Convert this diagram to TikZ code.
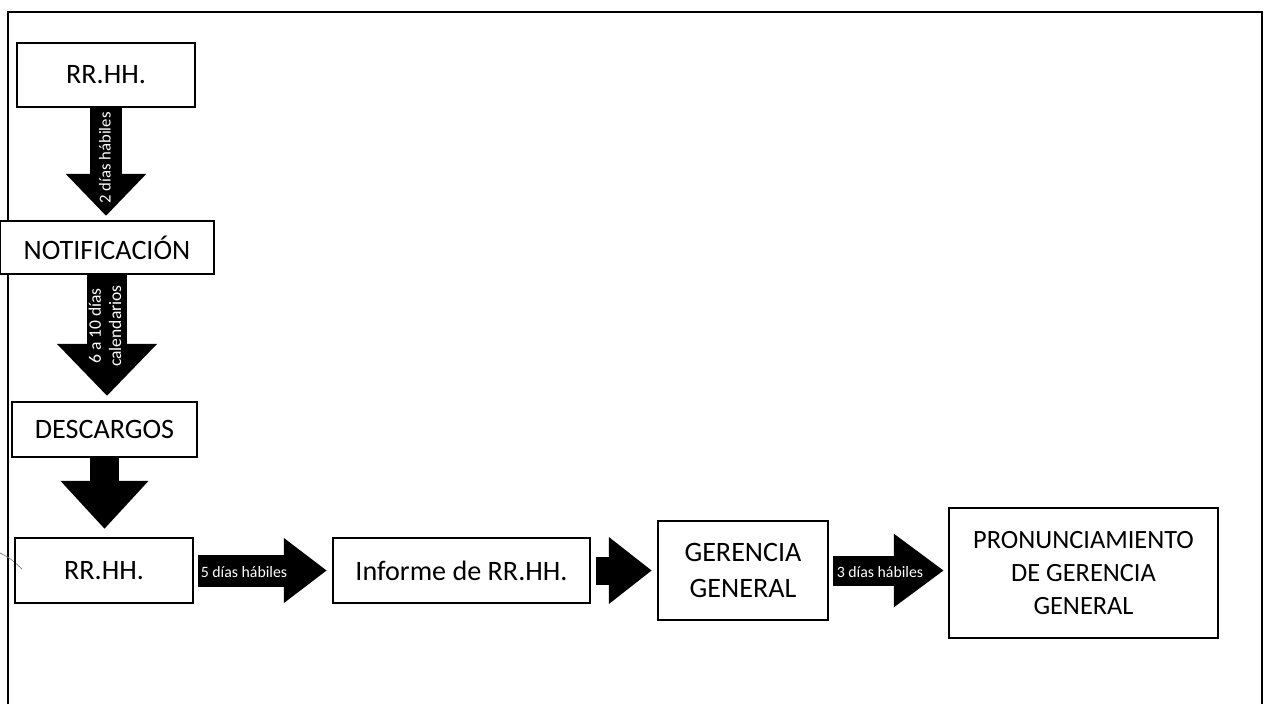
\documentclass[tikz,border=0pt]{standalone}
\usepackage{fontspec}
\setmainfont{Carlito}
\usetikzlibrary{arrows.meta}

\tikzset{
  caja/.style={draw, line width=1.3pt, align=center, font=\fontsize{16}{21}\selectfont},
  blk/.style n args={3}{line width=#1, -{Triangle[width=#2,length=#3]}},
  plazo/.style={text=white, align=center, font=\fontsize{9}{11}\selectfont, inner sep=0pt}
}

\begin{document}
\begin{tikzpicture}[line cap=butt,line join=miter,x=0.02cm,y=-0.02cm]
\useasboundingbox (0,0) rectangle (1265,704);
% marco
\draw[line width=1.2pt] (8,704) -- (8,12) -- (1262,12) -- (1262,704);
\draw[gray, line width=0.4pt] (0,553) .. controls (10,558) .. (22,569);
% cajas
\node[caja, minimum width=3.56cm, minimum height=1.28cm] (rrhhA) at (106,75) {RR.HH.};
\node[caja, fill=white, minimum width=4.28cm, minimum height=1.06cm] (notif) at (107,247.5) {NOTIFICACIÓN};
\node[caja, minimum width=3.70cm, minimum height=1.10cm] (desc) at (104.5,429.5) {DESCARGOS};
\node[caja, minimum width=3.56cm, minimum height=1.30cm] (rrhhB) at (104,570.5) {RR.HH.};
\node[caja, minimum width=5.14cm, minimum height=1.30cm] (inf) at (461.5,570.5) {Informe de RR.HH.};
\node[caja, minimum width=3.40cm, minimum height=1.98cm] (ger) at (743,570.5) {GERENCIA\\GENERAL};
\node[caja, minimum width=5.38cm, minimum height=2.60cm, font=\fontsize{15}{19}\selectfont] (pron) at (1083.5,573) {PRONUNCIAMIENTO\\DE GERENCIA\\GENERAL};
% flechas
\draw[blk={0.64cm}{1.56cm}{0.84cm}, shorten >=0.08cm] (rrhhA.south) -- (rrhhA.south |- notif.north);
\draw[blk={0.80cm}{1.94cm}{1.04cm}, shorten >=0.10cm] (notif.south) -- (notif.south |- desc.north);
\draw[blk={0.58cm}{1.70cm}{0.96cm}, shorten >=0.16cm] (desc.south) -- (desc.south |- rrhhB.north);
\draw[blk={0.64cm}{1.24cm}{0.86cm}, shorten <=0.08cm, shorten >=0.10cm] (rrhhB.east) -- (inf.west);
\draw[blk={0.56cm}{1.28cm}{0.86cm}, shorten <=0.10cm, shorten >=0.10cm] (inf.east) -- (ger.west);
\draw[blk={0.60cm}{1.40cm}{1.00cm}, shorten <=0.08cm, shorten >=0.08cm] (ger.east) -- (ger.east -| pron.west);
% plazos
\node[plazo, rotate=90, font=\fontsize{9.5}{11}\selectfont] (p1) at (105,158) {2 días hábiles};
\node[plazo, rotate=90, font=\fontsize{10}{11.5}\selectfont] (p2) at (105,326) {6 a 10 días\\calendarios};
\node[plazo] (p4) at (244,572) {5 días hábiles};
\node[plazo] (p6) at (880,572) {3 días hábiles};
\end{tikzpicture}
\end{document}
